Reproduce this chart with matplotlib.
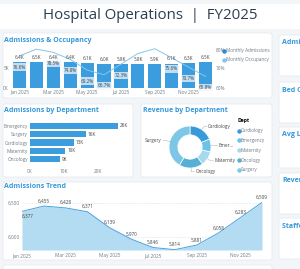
import numpy as np
import matplotlib
matplotlib.use('Agg')
import matplotlib.pyplot as plt
from matplotlib.patches import FancyBboxPatch
from matplotlib.lines import Line2D

plt.rcParams['font.family'] = ['Open Sans', 'DejaVu Sans']

# data
months = ['Jan 2025', 'Feb 2025', 'Mar 2025', 'Apr 2025', 'May 2025', 'Jun 2025',
          'Jul 2025', 'Aug 2025', 'Sep 2025', 'Oct 2025', 'Nov 2025', 'Dec 2025']
admissions = [6377, 6455, 6428, 6371, 6139, 5970, 5846, 5814, 5881, 6058, 6283, 6509]
occupancy = [76.6, 80.2, 78.5, 74.8, 69.2, 66.7, 72.3, 77.9, 80.4, 75.6, 70.7, 65.8]
departments = ['Emergency', 'Surgery', 'Cardiology', 'Maternity', 'Oncology']
dept_admissions = [25700, 16300, 12800, 10400, 8900]
rev_departments = ['Cardiology', 'Emergency', 'Maternity', 'Oncology', 'Surgery']
rev_labels = ['Cardiology', 'Emer...', 'Maternity', 'Oncology', 'Surgery']
revenue = [6.8, 3.6, 4.0, 6.6, 15.0]
kpi_titles = ['Admissions', 'Bed Occupancy', 'Avg Length of Stay', 'Revenue', 'Staffed Beds']

W, H = 300, 269
BLUE = '#3b9ddd'
LIGHT = '#85c6ec'
TITLE_BLUE = '#3498db'
GREY = '#707b85'

fig = plt.figure(figsize=(W / 100, H / 100), dpi=100)
fig.patch.set_facecolor('#f3f6f9')


def box(x0, y0, x1, y1):
    return [x0 / W, 1 - y1 / H, (x1 - x0) / W, (y1 - y0) / H]


def card(x0, y0, x1, y1):
    p = FancyBboxPatch((x0 / W, 1 - y1 / H), (x1 - x0) / W, (y1 - y0) / H,
                       boxstyle='round,pad=0,rounding_size=0.008',
                       transform=fig.transFigure, fc='white', ec='#e2e7ed', lw=0.5,
                       zorder=-10)
    fig.patches.append(p)


def panel_title(x, y, s):
    fig.text(x / W, 1 - y / H, s, fontsize=5, color=TITLE_BLUE, weight='bold', va='center')


def clean(ax):
    for s in ax.spines.values():
        s.set_visible(False)
    ax.tick_params(length=0, labelsize=3.4, labelcolor=GREY, pad=1.5)
    ax.set_facecolor('none')


# header and cards
fig.patches.append(FancyBboxPatch((0, 1 - 29 / H), 1, 25 / H, boxstyle='square,pad=0',
                                  transform=fig.transFigure, fc='white', ec='none',
                                  zorder=-10))
fig.text(0.5, 1 - 15.5 / H, 'Hospital Operations  |  FY2025', fontsize=10.8,
         color='#2c3e50', ha='center', va='center')

card(3, 33, 272, 98)
card(3, 104, 133, 177)
card(141, 104, 272, 177)
card(3, 182, 272, 260)
card(3, 265, 272, 295)
kpi_tops = [35, 82, 127, 173, 218]
for t, y0 in zip(kpi_titles, kpi_tops):
    card(279, y0, 320, y0 + 41)
    panel_title(282, y0 + 8, t)

# Admissions & Occupancy
panel_title(4.5, 40, 'Admissions & Occupancy')
x = np.arange(len(months))
ax1 = fig.add_axes(box(11, 49.5, 214, 87.5))
ax1.bar(x, admissions, width=0.78, color=BLUE, zorder=2)
ax1.set_xlim(-0.5, 11.5)
ax1.set_ylim(0, 9600)
ax1.set_yticks([0, 5000])
ax1.set_yticklabels(['0K', '5K'])
ax1.set_xticks(x[::2])
ax1.set_xticklabels(months[::2])
clean(ax1)
ax2 = ax1.twinx()
ax2.plot(x, occupancy, color=LIGHT, lw=0.7, clip_on=False, zorder=3)
ax2.set_ylim(60, 80)
ax2.set_yticks([60, 70, 80])
ax2.set_yticklabels(['60%', '70%', '80%'])
clean(ax2)

labels = []
for i in x:
    tb = ax2.annotate(f'{admissions[i] / 1000:.1f}K', (i, admissions[i] / 9600 * 20 + 60),
                      xytext=(0, 1.5), textcoords='offset points', ha='center', va='bottom',
                      fontsize=3.3, color='#444')
    tp = ax2.annotate(f'{occupancy[i]:.1f}%', (i, occupancy[i]), xytext=(0, -8),
                      textcoords='offset points', ha='center', va='center', fontsize=3.3,
                      color='#444', bbox=dict(boxstyle='square,pad=0.25', fc='#eef6fc',
                                              ec='none', alpha=0.75))
    labels += [tb, tp]

handles = [Line2D([], [], marker='o', ls='none', color='#2e86de', markersize=2.2),
           Line2D([], [], marker='o', ls='none', color=LIGHT, markersize=2.2)]
fig.legend(handles, ['Monthly Admissions', 'Monthly Occupancy'], loc='upper left',
           bbox_to_anchor=(220 / W, 1 - 46 / H), frameon=False, fontsize=3.3,
           handlelength=0.6, handletextpad=0.2, labelspacing=0.9, labelcolor=GREY,
           borderpad=0)

# Admissions by Department
panel_title(4.5, 110, 'Admissions by Department')
ax3 = fig.add_axes(box(30, 121.5, 122, 163.5))
yd = np.arange(len(departments))
ax3.barh(yd, dept_admissions, height=0.72, color=BLUE)
ax3.set_ylim(4.5, -0.5)
ax3.set_xlim(0, 27000)
ax3.set_yticks(yd)
ax3.set_yticklabels(departments)
ax3.set_xticks([0, 10000, 20000])
ax3.set_xticklabels(['0K', '10K', '20K'])
for i, v in enumerate(dept_admissions):
    ax3.text(v + 500, i, f'{v / 1000:.0f}K', va='center', fontsize=3.3, color='#444')
clean(ax3)
ax3.tick_params(axis='x', pad=4)

# Revenue by Department
panel_title(143, 110, 'Revenue by Department')
ax4 = fig.add_axes(box(169, 126, 211, 168))
pie_colors = ['#3a9ad9', '#6cc3e8', '#a6d9ee', '#58afd6', '#7cc7e6']
wedges, _ = ax4.pie(revenue, startangle=90, counterclock=False, colors=pie_colors,
                    wedgeprops=dict(width=0.42, edgecolor='white', linewidth=0.5))
ax4.set_xlim(-1, 1)
ax4.set_ylim(-1, 1)
for w, lab in zip(wedges, rev_labels):
    a = np.deg2rad((w.theta1 + w.theta2) / 2)
    c, s = np.cos(a), np.sin(a)
    p1 = (1.18 * c, 1.18 * s)
    d = 1 if c >= 0 else -1
    p2 = (p1[0] + 0.15 * d, p1[1])
    ax4.plot([c, p1[0], p2[0]], [s, p1[1], p2[1]], color='#9aa5ae', lw=0.3, clip_on=False)
    ax4.text(p2[0] + 0.05 * d, p2[1], lab, ha='left' if d > 0 else 'right', va='center',
             fontsize=3.3, color='#444', clip_on=False)

leg_handles = [Line2D([], [], marker='o', ls='none', color=c, markersize=2.2) for c in pie_colors]
fig.legend(leg_handles, rev_departments, title='Dept', loc='upper left',
           bbox_to_anchor=(235 / W, 1 - 116 / H), frameon=False, fontsize=3.3,
           title_fontproperties={'size': 3.6, 'weight': 'bold'}, handlelength=0.6,
           handletextpad=0.2, labelspacing=1.05, labelcolor=GREY, borderpad=0,
           alignment='left')

# Admissions Trend
panel_title(4.5, 187, 'Admissions Trend')
ax5 = fig.add_axes(box(22, 197, 262, 250))
ylo, yhi = 5809, 6588
ax5.fill_between(x, admissions, ylo, color='#b3dbf1', lw=0)
ax5.plot(x, admissions, color='#4aa3df', lw=0.7)
ax5.set_xlim(0, 11)
ax5.set_ylim(ylo, yhi)
ax5.set_yticks([6000, 6500])
ax5.set_yticklabels(['6,000', '6,500'])
ax5.set_xticks(x[::2])
ax5.set_xticklabels(months[::2])
ax5.grid(axis='y', color='#dde3e8', lw=0.4, ls='--')
ax5.set_axisbelow(True)
for i, v in zip(x, admissions):
    if i == 0:
        ax5.annotate(f'{v:,}', (i, v), xytext=(0, -1.5), textcoords='offset points',
                     ha='left', va='top', fontsize=3.3, color='#444')
    else:
        ax5.annotate(f'{v:,}', (i, v), xytext=(0, 2), textcoords='offset points',
                     ha='center', va='bottom', fontsize=3.3, color='#444')
clean(ax5)
ax5.tick_params(axis='x', pad=2.5)

# hide overlapping labels in the top chart
fig.canvas.draw()
r = fig.canvas.get_renderer()
kept = []
for t in labels:
    bb = t.get_window_extent(r)
    if any(bb.overlaps(k) for k in kept):
        t.set_visible(False)
    else:
        kept.append(bb)

fig.savefig('out.png', dpi=100, facecolor=fig.get_facecolor())
